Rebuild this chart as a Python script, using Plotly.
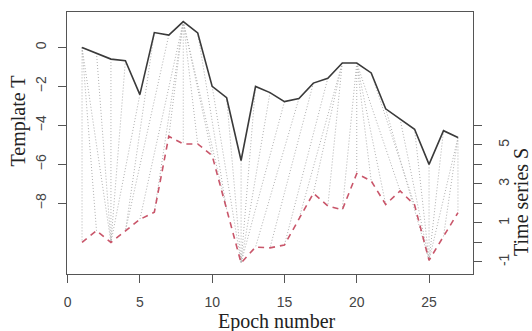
import plotly.graph_objects as go

# ---- data ----
epochs = list(range(1, 28))
template_T = [0.0, -0.29, -0.6, -0.68, -2.42, 0.76, 0.63, 1.32, 0.74, -2.0, -2.58, -5.8, -2.0, -2.32,
              -2.78, -2.62, -1.83, -1.58, -0.8, -0.8, -1.31, -3.15, -3.68, -4.2, -6.0, -4.27, -4.62]
series_S = [0.0, 0.6, 0.0, 0.58, 1.18, 1.55, 5.44, 5.05, 5.05, 4.45, 1.7, -1.05, -0.24, -0.28,
            -0.13, 1.2, 2.52, 1.87, 1.67, 3.53, 3.15, 1.95, 2.64, 1.92, -0.92, 0.31, 1.52]
offset = -10  # S is drawn shifted by this offset, right axis shows original values

# alignment (index in T, index in S)
match_T = [1, 1, 1, 2, 3, 4, 5, 6, 7, 8, 8, 8, 8, 8, 8, 8, 9, 10, 11, 12, 13, 14, 15, 16,
           17, 18, 19, 19, 19, 20, 20, 20, 20, 20, 21, 22, 23, 24, 25, 26, 27, 27, 27]
match_S = [1, 2, 3, 3, 3, 3, 3, 4, 4, 5, 6, 7, 8, 9, 10, 11, 11, 12, 12, 12, 12, 12, 12, 13,
           14, 15, 16, 17, 18, 19, 20, 21, 22, 23, 24, 25, 25, 25, 25, 25, 25, 26, 27]

x_ticks = [0, 5, 10, 15, 20, 25]
left_ticks = [-8, -6, -4, -2, 0]
right_ticks = [-1, 0, 1, 2, 3, 4, 5, 6]
right_labels = ["-1", "", "1", "", "3", "", "5", ""]

seg_x, seg_y = [], []
for a, b in zip(match_T, match_S):
    seg_x += [a, b, None]
    seg_y += [template_T[a - 1], series_S[b - 1] + offset, None]

fig = go.Figure()
fig.add_trace(go.Scatter(x=seg_x, y=seg_y, mode="lines",
                         line=dict(color="#b0b0b0", width=1, dash="1px,2px"), hoverinfo="skip"))
fig.add_trace(go.Scatter(x=epochs, y=template_T, mode="lines",
                         line=dict(color="#3a3a3a", width=1.6)))
fig.add_trace(go.Scatter(x=epochs, y=[v + offset for v in series_S], mode="lines",
                         line=dict(color="#c9566a", width=1.6, dash="6px,5px")))
fig.add_trace(go.Scatter(x=[epochs[0]], y=[series_S[0]], yaxis="y2", mode="markers",
                         marker=dict(opacity=0), hoverinfo="skip"))

W, H = 532, 331
L, R_, T, B = 67, 59, 12, 57
pw, ph = W - L - R_, H - T - B
def px(x): return (x - L) / pw
def py(y): return (H - B - y) / ph

ylo, yhi = -11.62, 1.815
tickfont = dict(family="Liberation Sans, Arial", size=14, color="#444")
fig.update_layout(
    width=W, height=H, showlegend=False,
    margin=dict(l=L, r=R_, t=T, b=B),
    plot_bgcolor="white", paper_bgcolor="white",
    xaxis=dict(range=[-0.04, 28.04], tickvals=x_ticks, ticks="outside", ticklen=8,
               tickcolor="#555", showline=True, linecolor="#555", linewidth=1.3, mirror=True,
               showgrid=False, zeroline=False, tickfont=tickfont, ticklabelstandoff=7),
    yaxis=dict(range=[ylo, yhi], tickvals=left_ticks, ticks="outside", ticklen=8,
               tickcolor="#555", showline=True, linecolor="#555", linewidth=1.3, mirror=True,
               showgrid=False, zeroline=False, tickangle=-90, tickfont=tickfont, ticklabelstandoff=6),
    yaxis2=dict(range=[ylo - offset, yhi - offset], overlaying="y", side="right",
                tickvals=right_ticks, ticktext=right_labels,
                ticks="outside", ticklen=8, tickcolor="#555", showline=False, showgrid=False,
                zeroline=False, tickangle=-90, tickfont=tickfont, ticklabelstandoff=10),
)
title_font = dict(family="Liberation Serif", size=20, color="#222")
fig.add_annotation(text="Epoch number", x=px(277), y=py(321), xref="paper", yref="paper",
                   showarrow=False, xanchor="center", yanchor="middle", font=title_font)
fig.add_annotation(text="Template T", x=px(18), y=py(121.5), xref="paper", yref="paper",
                   showarrow=False, textangle=-90, xanchor="center", yanchor="middle", font=title_font)
fig.add_annotation(text="Time series S", x=px(521), y=py(202), xref="paper", yref="paper",
                   showarrow=False, textangle=-90, xanchor="center", yanchor="middle", font=title_font)
fig.write_html("out.html", post_script="document.body.style.margin='0';",
               config={"displayModeBar": False})
